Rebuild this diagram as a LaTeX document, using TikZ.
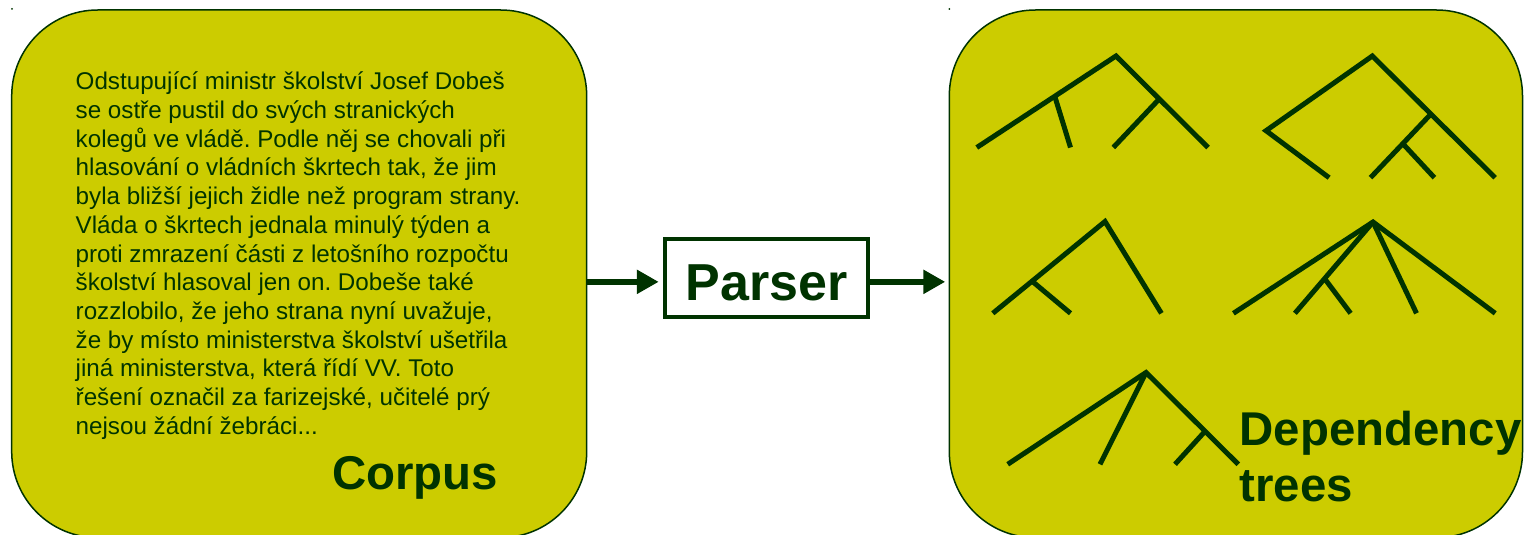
\documentclass[tikz,border=0pt]{standalone}
\usepackage{fontspec}
\setmainfont{Liberation Sans}
\usepackage{xcolor}
\definecolor{panelyellow}{RGB}{204,204,0}
\definecolor{darkleaf}{RGB}{0,51,0}
\usepackage{tikz}
\usetikzlibrary{arrows.meta}
\tikzset{
  panel/.style={
    rectangle, rounded corners=86pt, draw=darkleaf, line width=1.5pt,
    fill=panelyellow, inner sep=0pt
  },
  stage/.style={
    rectangle, draw=darkleaf, line width=4pt, fill=white,
    minimum width=202.7pt, inner xsep=0pt, inner ysep=0pt,
    text height=61.3pt, text depth=17pt,
    text=darkleaf, font=\fontsize{52}{60}\selectfont\bfseries
  },
  bodytext/.style={
    anchor=base west, inner sep=0pt, text=darkleaf,
    font=\fontsize{24.2}{28.7}\selectfont\frenchspacing
  },
  caption/.style={
    anchor=base west, inner sep=0pt, text=darkleaf,
    font=\fontsize{47.4}{56.7}\selectfont\bfseries
  },
  branch/.style={line width=5pt, color=darkleaf},
  arrow/.style={line width=6pt, -{Triangle[length=22pt,width=23pt]}, color=darkleaf},
}

\begin{document}
\begin{tikzpicture}[x=1pt, y=-1pt]
  \useasboundingbox (0,0) rectangle (1528,535);

  % panels
  \node (corpus) [panel, minimum width=575pt, minimum height=527.6pt] at (299.2,273.8) {};
  \node (trees)  [panel, minimum width=573.2pt, minimum height=527.6pt] at (1235.9,273.8) {};
  \fill [darkleaf] (12,9) circle (1pt) (949.4,9) circle (1pt);

  % corpus side
  \node (article) [bodytext] at (75.5,89.8) {\parbox[t]{480pt}{%
    Odstupující ministr školství Josef Dobeš\\
    se ostře pustil do svých stranických\\
    kolegů ve vládě. Podle něj se chovali při\\
    hlasování o vládních škrtech tak, že jim\\
    byla bližší jejich židle než program strany.\\
    Vláda o škrtech jednala minulý týden a\\
    proti zmrazení části z letošního rozpočtu\\
    školství hlasoval jen on. Dobeše také\\
    rozzlobilo, že jeho strana nyní uvažuje,\\
    že by místo ministerstva školství ušetřila\\
    jiná ministerstva, která řídí VV. Toto\\
    řešení označil za farizejské, učitelé prý\\
    nejsou žádní žebráci...}};
  \node (corpuslabel) [caption] at (332,489) {Corpus};

  % parser in the middle
  \node (parser) [stage, anchor=base] at (766.7,300) {Parser};
  \coordinate (inlet)  at ([yshift=-4pt]parser.west);
  \coordinate (outlet) at ([yshift=-4pt]parser.east);

  \draw [arrow, shorten >=4.6pt] (inlet -| corpus.east) -- (inlet);
  \draw [arrow, shorten >=3.3pt] (outlet) -- (outlet -| trees.west);

  % trees side
  \draw [branch] (976.8,147.5) -- coordinate[pos=0.56] (t1a) (1116,56)
                 -- coordinate[pos=0.47] (t1b) (1208,147.5);
  \draw [branch] (t1a) -- (1070.5,147.5);
  \draw [branch] (t1b) -- (1113.3,147.5);

  \draw [branch] (1329.1,177.7) -- (1266,130.7) -- (1372.3,56)
                 -- coordinate[pos=0.477] (t2a) (1495.1,177.7);
  \draw [branch] (t2a) -- coordinate[pos=0.465] (t2b) (1370.5,177.7);
  \draw [branch] (t2b) -- (1434.4,177.7);

  \draw [branch] (992.8,313.3) -- coordinate[pos=0.35] (t3a) (1105,221.5)
                 -- (1161.4,313.3);
  \draw [branch] (t3a) -- (1070.5,313.3);

  \draw [branch] (1233.4,313.3) -- (1373,222) -- (1495.2,313.3);
  \draw [branch] (1373,222) -- coordinate[pos=0.62] (t4a) (1294.9,313.3);
  \draw [branch] (1373,222) -- (1416.5,313.3);
  \draw [branch] (t4a) -- (1350.6,313.3);

  \draw [branch] (1007.7,464.3) -- (1146,372.5)
                 -- coordinate[pos=0.64] (t5a) (1238.3,464.3);
  \draw [branch] (1146,372.5) -- (1100,464.3);
  \draw [branch] (t5a) -- (1175,464.3);

  \node (treeslabel) [caption] at (1239.5,445) {\parbox[t]{300pt}{Dependency\\trees}};
\end{tikzpicture}
\end{document}
